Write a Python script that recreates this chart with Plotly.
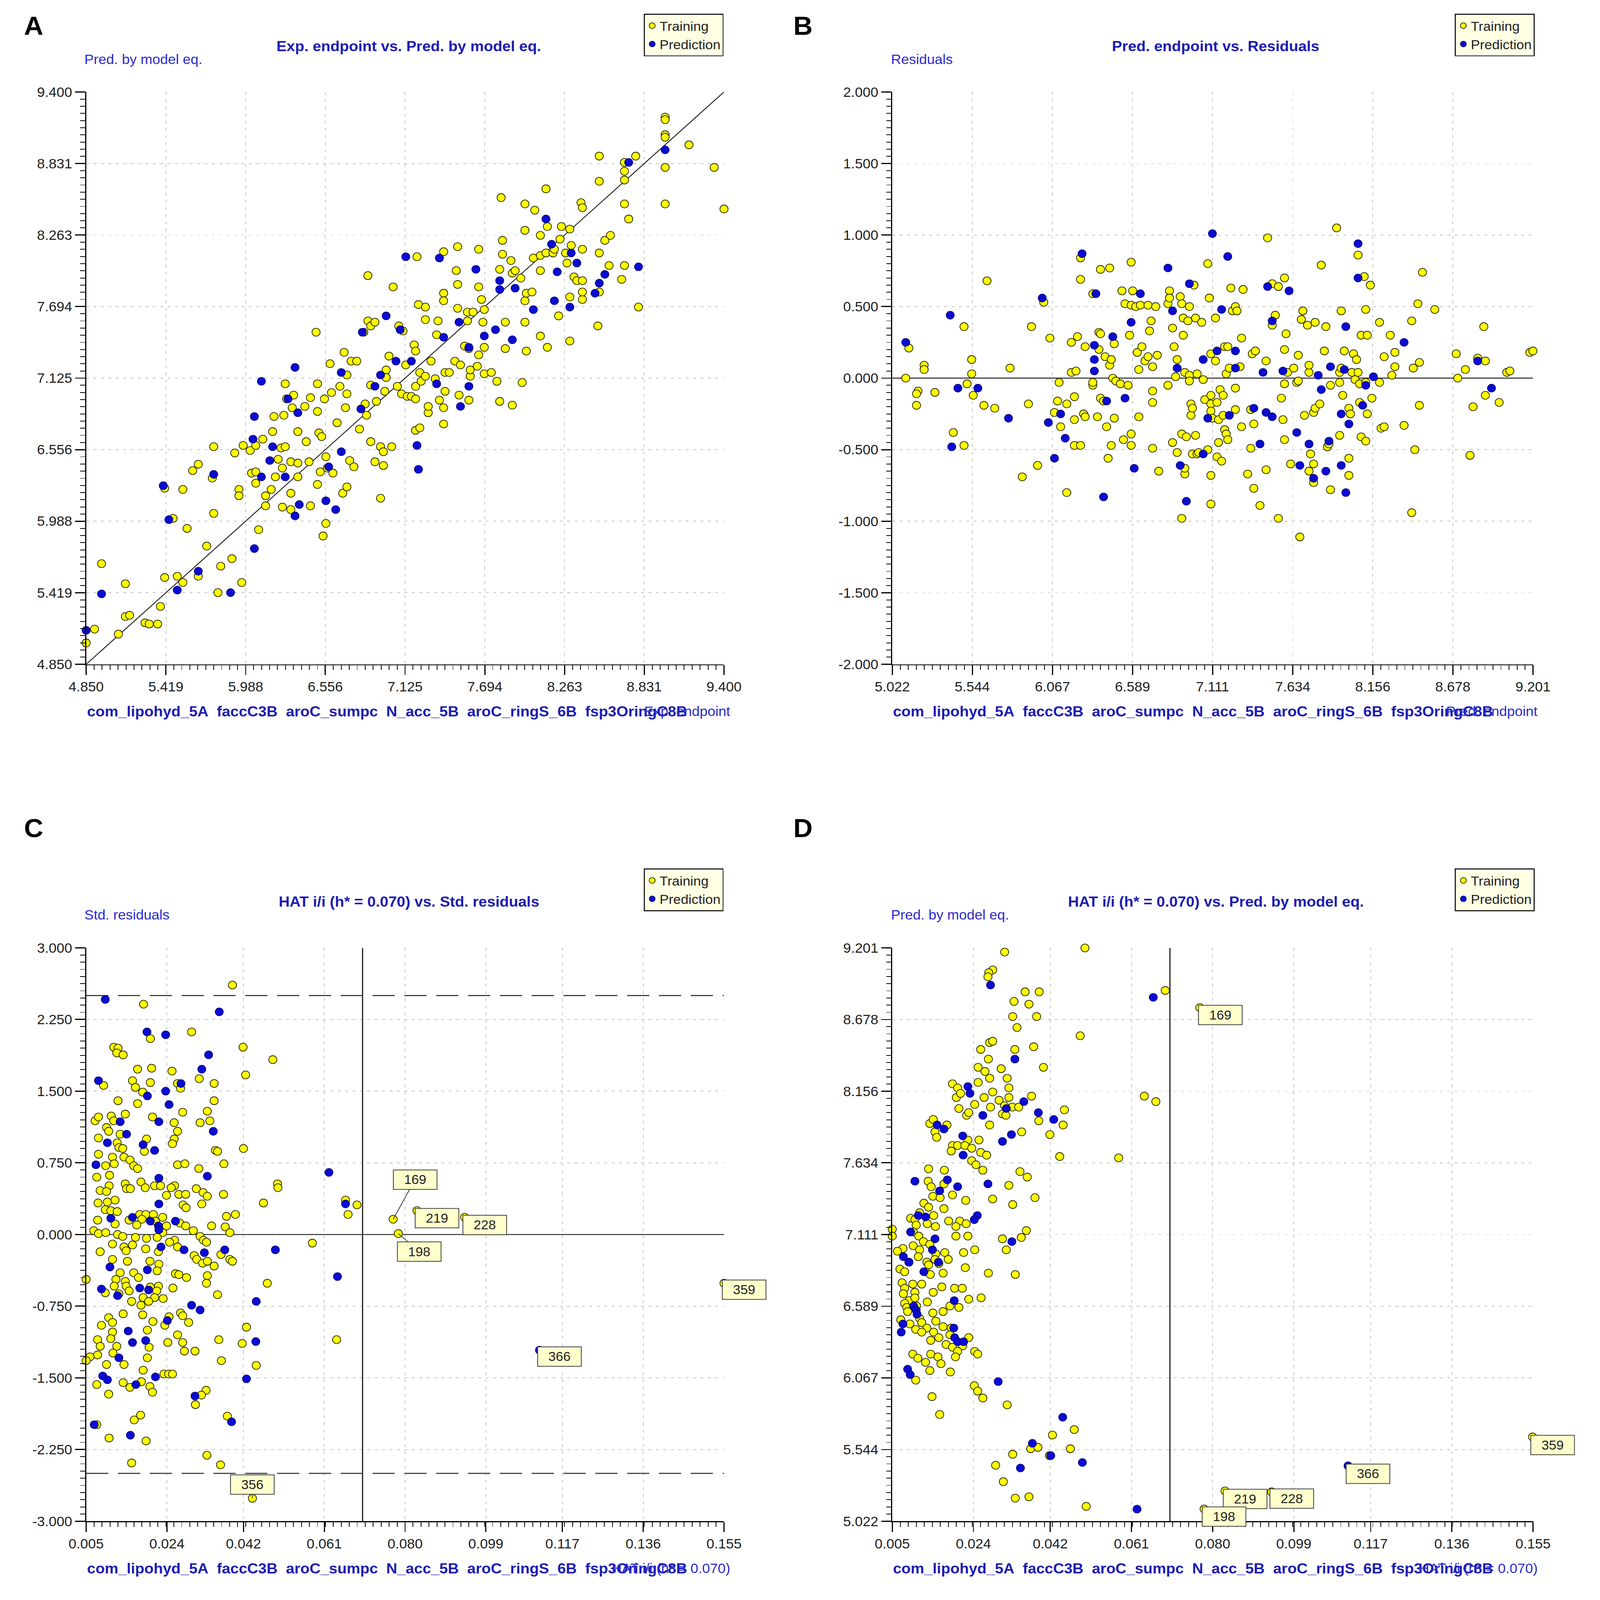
import plotly.graph_objects as go

W, H = 4324, 4450

# ---------------- data ----------------
a_ticks = ["4.850", "5.419", "5.988", "6.556", "7.125", "7.694", "8.263", "8.831", "9.400"]
b_x_ticks = ["5.022", "5.544", "6.067", "6.589", "7.111", "7.634", "8.156", "8.678", "9.201"]
b_y_ticks = ["-2.000", "-1.500", "-1.000", "-0.500", "0.000", "0.500", "1.000", "1.500", "2.000"]
h_ticks = ["0.005", "0.024", "0.042", "0.061", "0.080", "0.099", "0.117", "0.136", "0.155"]
c_y_ticks = ["-3.000", "-2.250", "-1.500", "-0.750", "0.000", "0.750", "1.500", "2.250", "3.000"]
d_y_ticks = b_x_ticks

h_star = 0.070
std_limit = 2.5

# Panel A: (experimental endpoint, predicted by model eq.)
a_train = [(4.85,5.02),(4.91,5.13),(4.96,5.65),(5.08,5.09),(5.13,5.49),(5.13,5.23),(5.16,5.24),(5.27,5.18),(5.30,5.17),(5.36,5.17),(5.38,5.31),(5.41,5.54),(5.41,6.25),(5.47,6.01),(5.50,5.55),(5.54,5.50),(5.54,6.24),(5.57,5.93),(5.61,6.39),(5.65,6.44),(5.65,5.55),(5.71,5.79),(5.76,6.58),(5.75,6.33),(5.76,6.05),(5.79,5.42),(5.81,5.63),(5.89,5.69),(5.91,6.53),(5.94,6.24),(5.94,6.19),(5.96,5.50),(5.97,6.59),(6.02,6.55),(6.03,6.37),(6.06,6.59),(6.06,6.38),(6.06,6.29),(6.08,5.92),(6.11,6.64),(6.13,6.19),(6.13,6.11),(6.17,6.24),(6.18,6.70),(6.19,6.82),(6.20,6.34),(6.22,6.48),(6.24,6.57),(6.25,6.41),(6.25,6.10),(6.26,6.83),(6.27,7.08),(6.27,6.58),(6.28,6.96),(6.31,6.46),(6.31,6.21),(6.31,6.08),(6.32,6.89),(6.33,6.99),(6.36,6.70),(6.36,6.45),(6.36,6.34),(6.41,6.90),(6.42,6.62),(6.44,6.46),(6.45,6.11),(6.49,7.49),(6.45,6.97),(6.50,7.08),(6.50,6.86),(6.50,6.28),(6.51,6.69),(6.52,6.38),(6.53,6.66),(6.54,5.87),(6.56,6.50),(6.56,5.97),(6.55,6.96),(6.57,6.41),(6.59,7.24),(6.60,7.01),(6.61,6.37),(6.64,6.77),(6.66,7.06),(6.68,6.21),(6.69,7.33),(6.70,6.89),(6.71,7.00),(6.71,6.26),(6.71,7.15),(6.73,6.47),(6.74,7.26),(6.76,6.42),(6.78,7.26),(6.80,6.72),(6.83,7.49),(6.84,6.92),(6.85,6.83),(6.86,7.94),(6.86,7.58),(6.88,7.54),(6.88,6.62),(6.88,7.07),(6.91,7.57),(6.91,6.46),(6.92,6.94),(6.95,6.17),(6.95,6.58),(6.97,6.54),(6.97,6.43),(6.98,7.02),(6.99,7.19),(6.99,7.13),(7.01,7.30),(7.03,6.58),(7.04,7.85),(7.07,7.06),(7.08,7.54),(7.11,7.50),(7.10,7.00),(7.13,7.23),(7.14,6.98),(7.17,6.98),(7.19,7.39),(7.20,7.34),(7.20,7.06),(7.20,6.96),(7.20,6.71),(7.21,8.09),(7.22,7.71),(7.23,7.17),(7.23,6.73),(7.24,7.10),(7.27,7.69),(7.27,7.59),(7.27,7.14),(7.29,6.85),(7.29,6.90),(7.31,7.26),(7.34,7.12),(7.35,7.47),(7.36,7.58),(7.37,6.95),(7.40,8.13),(7.40,7.80),(7.40,7.74),(7.40,6.89),(7.40,6.76),(7.41,7.17),(7.41,7.02),(7.44,7.17),(7.48,7.26),(7.49,7.98),(7.50,8.17),(7.50,7.87),(7.50,7.68),(7.51,6.99),(7.52,7.23),(7.55,7.38),(7.57,7.65),(7.57,7.58),(7.58,7.36),(7.58,6.95),(7.59,7.14),(7.59,7.19),(7.61,7.65),(7.64,7.22),(7.65,7.85),(7.65,8.15),(7.65,7.31),(7.67,7.75),(7.68,7.57),(7.69,7.37),(7.69,7.16),(7.69,7.67),(7.74,7.17),(7.78,7.10),(7.80,7.99),(7.81,8.56),(7.82,8.22),(7.82,8.11),(7.80,6.94),(7.84,7.57),(7.84,7.36),(7.88,8.06),(7.89,7.96),(7.89,6.91),(7.91,7.98),(7.95,7.92),(7.96,7.09),(7.98,8.51),(7.98,8.30),(7.98,7.74),(7.98,7.57),(7.99,7.34),(7.99,7.80),(8.03,7.81),(8.05,8.46),(8.04,8.08),(8.09,8.26),(8.09,8.10),(8.09,7.98),(8.09,7.46),(8.13,8.63),(8.14,8.33),(8.13,8.12),(8.14,7.37),(8.18,8.12),(8.19,8.15),(8.22,7.62),(8.23,8.23),(8.24,8.33),(8.27,8.12),(8.28,8.04),(8.30,8.31),(8.30,7.77),(8.30,7.42),(8.31,8.18),(8.33,7.93),(8.35,7.90),(8.38,8.52),(8.39,8.48),(8.39,8.15),(8.39,7.90),(8.39,7.75),(8.39,7.81),(8.50,7.54),(8.51,8.12),(8.51,7.81),(8.51,8.69),(8.51,8.89),(8.55,8.22),(8.59,8.26),(8.58,8.02),(8.67,7.91),(8.69,8.02),(8.69,8.84),(8.69,8.77),(8.69,8.70),(8.69,8.51),(8.72,8.39),(8.77,8.89),(8.79,7.69),(8.98,9.20),(8.98,9.18),(8.98,9.06),(8.98,9.04),(8.98,8.80),(8.98,8.51),(9.15,8.98),(9.33,8.80),(9.40,8.47)]
a_pred = [(4.85,5.12),(4.96,5.41),(5.40,6.27),(5.44,6.00),(5.50,5.44),(5.65,5.59),(5.76,6.36),(5.88,5.42),(6.04,6.64),(6.05,6.82),(6.05,5.77),(6.10,7.10),(6.10,6.34),(6.16,6.47),(6.18,6.58),(6.27,6.34),(6.29,6.96),(6.34,7.21),(6.34,6.03),(6.36,6.85),(6.37,6.12),(6.56,6.15),(6.58,6.42),(6.63,6.08),(6.67,6.54),(6.67,7.17),(6.81,6.88),(6.82,7.49),(6.91,7.06),(6.95,7.15),(6.99,7.62),(7.06,7.26),(7.09,7.51),(7.13,8.09),(7.17,7.26),(7.21,6.59),(7.22,6.40),(7.35,7.08),(7.37,8.08),(7.40,7.45),(7.51,7.57),(7.52,6.90),(7.58,7.06),(7.58,7.37),(7.63,7.99),(7.69,7.46),(7.77,7.51),(7.80,7.83),(7.80,7.90),(7.89,7.43),(7.91,7.84),(8.04,7.67),(8.13,8.39),(8.17,8.19),(8.21,7.97),(8.19,7.74),(8.30,7.69),(8.31,8.12),(8.35,8.04),(8.48,7.80),(8.51,7.88),(8.55,7.95),(8.72,8.84),(8.79,8.01),(8.98,8.94)]

# Panel B: (predicted endpoint, residual)
b_train = [(5.02,0.17),(5.11,0.00),(5.13,0.21),(5.19,-0.09),(5.18,-0.11),(5.18,-0.19),(5.23,0.09),(5.23,0.06),(5.30,-0.10),(5.42,-0.38),(5.49,0.36),(5.49,-0.47),(5.51,-0.04),(5.54,0.13),(5.54,0.03),(5.55,-0.12),(5.62,-0.19),(5.64,0.68),(5.69,-0.21),(5.79,0.07),(5.87,-0.69),(5.91,-0.18),(5.93,0.36),(5.97,-0.61),(6.01,0.53),(6.05,0.28),(6.08,-0.24),(6.10,-0.16),(6.11,-0.03),(6.12,-0.34),(6.16,-0.18),(6.16,-0.80),(6.19,0.25),(6.19,0.04),(6.21,-0.13),(6.21,-0.29),(6.21,-0.47),(6.22,0.05),(6.23,0.29),(6.25,0.84),(6.25,0.69),(6.25,-0.47),(6.27,-0.25),(6.28,-0.27),(6.28,0.22),(6.33,-0.05),(6.33,-0.03),(6.33,0.59),(6.36,-0.27),(6.37,0.32),(6.37,0.20),(6.38,-0.14),(6.38,0.76),(6.38,0.31),(6.40,-0.16),(6.41,0.15),(6.42,-0.34),(6.43,-0.56),(6.44,0.77),(6.44,0.09),(6.45,-0.47),(6.45,0.13),(6.46,0.00),(6.47,-0.28),(6.47,0.24),(6.48,-0.02),(6.51,-0.04),(6.52,0.61),(6.53,-0.43),(6.54,0.52),(6.56,-0.05),(6.57,0.30),(6.58,-0.39),(6.58,0.81),(6.58,0.51),(6.58,-0.47),(6.59,0.61),(6.61,0.50),(6.62,0.18),(6.63,0.06),(6.63,-0.27),(6.64,0.51),(6.65,0.22),(6.67,0.12),(6.69,0.15),(6.69,0.51),(6.70,0.33),(6.71,0.40),(6.72,-0.49),(6.72,0.08),(6.72,-0.17),(6.72,-0.09),(6.74,0.50),(6.75,0.16),(6.76,-0.65),(6.82,-0.05),(6.82,0.52),(6.83,0.61),(6.83,0.56),(6.85,-0.45),(6.85,0.35),(6.86,0.22),(6.87,0.01),(6.88,-0.52),(6.88,0.13),(6.90,0.57),(6.91,0.52),(6.91,-0.98),(6.91,-0.39),(6.92,0.30),(6.92,0.42),(6.93,0.04),(6.93,-0.67),(6.93,-0.63),(6.94,-0.41),(6.95,0.40),(6.96,0.02),(6.96,0.50),(6.96,-0.02),(6.97,-0.18),(6.97,-0.26),(6.98,-0.21),(6.98,-0.53),(6.99,0.65),(7.00,0.42),(7.00,-0.40),(7.01,0.03),(7.01,-0.53),(7.02,-0.52),(7.04,0.39),(7.05,-0.01),(7.06,-0.15),(7.08,0.80),(7.08,-0.50),(7.09,0.56),(7.10,-0.68),(7.10,-0.88),(7.10,0.17),(7.10,-0.12),(7.10,-0.18),(7.10,-0.23),(7.11,-0.28),(7.13,0.12),(7.13,0.42),(7.14,-0.17),(7.14,-0.55),(7.15,-0.45),(7.15,-0.29),(7.16,-0.08),(7.17,-0.58),(7.18,-0.26),(7.18,-0.12),(7.19,0.22),(7.19,-0.36),(7.20,0.03),(7.20,-0.39),(7.21,0.22),(7.21,-0.43),(7.22,0.07),(7.23,0.63),(7.24,0.47),(7.26,0.50),(7.26,-0.07),(7.26,-0.22),(7.27,0.47),(7.29,0.08),(7.30,0.28),(7.30,-0.34),(7.31,0.62),(7.34,-0.67),(7.36,-0.49),(7.36,-0.22),(7.37,0.17),(7.38,-0.77),(7.38,-0.32),(7.39,0.19),(7.42,-0.89),(7.46,0.12),(7.46,-0.64),(7.47,0.98),(7.50,0.37),(7.50,0.66),(7.52,0.44),(7.54,-0.98),(7.54,0.64),(7.56,-0.14),(7.57,-0.29),(7.58,0.70),(7.58,0.20),(7.58,-0.43),(7.58,-0.04),(7.59,0.31),(7.60,0.04),(7.62,-0.60),(7.64,0.07),(7.66,-0.03),(7.67,0.16),(7.67,-0.02),(7.68,-1.11),(7.69,0.41),(7.70,0.47),(7.71,-0.26),(7.74,0.04),(7.73,0.37),(7.74,0.09),(7.74,-0.65),(7.75,-0.53),(7.77,-0.24),(7.77,-0.73),(7.77,-0.60),(7.78,0.39),(7.78,-0.21),(7.81,-0.18),(7.82,0.79),(7.84,0.19),(7.85,0.36),(7.86,-0.48),(7.87,-0.46),(7.88,-0.05),(7.88,-0.78),(7.92,1.05),(7.94,0.04),(7.94,-0.03),(7.94,-0.40),(7.95,0.07),(7.95,0.47),(7.96,-0.12),(7.97,0.19),(8.00,-0.56),(8.00,-0.21),(8.00,-0.68),(8.01,-0.25),(8.02,0.04),(8.03,0.17),(8.04,-0.01),(8.05,0.13),(8.06,0.86),(8.06,0.04),(8.07,-0.04),(8.07,-0.17),(8.08,0.30),(8.08,-0.41),(8.10,0.71),(8.11,-0.44),(8.11,-0.03),(8.11,0.48),(8.12,0.30),(8.12,-0.25),(8.14,0.65),(8.15,-0.14),(8.20,0.39),(8.20,-0.03),(8.21,-0.35),(8.23,-0.34),(8.23,0.15),(8.27,0.30),(8.28,0.02),(8.30,0.08),(8.30,0.18),(8.36,-0.33),(8.41,0.40),(8.41,-0.94),(8.42,0.07),(8.43,-0.50),(8.45,0.52),(8.46,0.11),(8.46,-0.19),(8.48,0.74),(8.56,0.48),(8.70,0.17),(8.71,0.00),(8.76,0.06),(8.79,-0.54),(8.81,-0.20),(8.84,0.14),(8.88,0.36),(8.89,-0.12),(8.89,0.12),(8.98,-0.17),(9.03,0.04),(9.05,0.05),(9.18,0.18),(9.20,0.19)]
b_pred = [(5.11,0.25),(5.40,0.44),(5.41,-0.48),(5.45,-0.07),(5.58,-0.07),(5.78,-0.28),(6.00,0.56),(6.04,-0.31),(6.08,-0.56),(6.12,-0.25),(6.15,-0.42),(6.26,0.87),(6.35,0.59),(6.34,0.13),(6.34,0.05),(6.34,0.23),(6.40,-0.83),(6.42,-0.16),(6.46,0.29),(6.54,-0.14),(6.58,0.39),(6.60,-0.63),(6.64,0.59),(6.82,0.77),(6.85,0.47),(6.88,0.07),(6.90,-0.61),(6.94,-0.86),(6.96,0.66),(7.05,0.13),(7.05,-0.53),(7.08,-0.28),(7.11,1.01),(7.14,0.19),(7.17,0.48),(7.21,0.85),(7.22,-0.26),(7.26,0.19),(7.26,0.07),(7.38,-0.21),(7.42,-0.46),(7.44,0.04),(7.46,-0.24),(7.47,0.64),(7.50,0.40),(7.50,-0.27),(7.57,0.05),(7.61,0.61),(7.66,-0.38),(7.68,-0.61),(7.74,-0.46),(7.77,-0.70),(7.80,0.02),(7.82,-0.08),(7.85,-0.65),(7.87,-0.44),(7.88,0.08),(7.95,-0.61),(7.95,-0.25),(7.97,0.06),(7.98,0.36),(7.98,-0.80),(8.00,-0.32),(8.06,0.94),(8.06,0.70),(8.09,-0.19),(8.11,-0.05),(8.16,0.01),(8.36,0.25),(8.84,0.12),(8.93,-0.07)]

# Panel C: (HAT i/i, std. residual)
c_train = [(0.0394,2.61),(0.0185,2.41),(0.0201,2.05),(0.0298,2.12),(0.0115,1.96),(0.0125,1.95),(0.0122,1.90),(0.0137,1.88),(0.0419,1.96),(0.0489,1.83),(0.0171,1.73),(0.0204,1.74),(0.0252,1.71),(0.0425,1.67),(0.0091,1.56),(0.0159,1.61),(0.0201,1.59),(0.0166,1.54),(0.0265,1.58),(0.0272,1.53),(0.0316,1.63),(0.0351,1.58),(0.0183,1.49),(0.0125,1.40),(0.0351,1.40),(0.0171,1.37),(0.0071,1.19),(0.0079,1.23),(0.0109,1.24),(0.0115,1.19),(0.0142,1.26),(0.0206,1.23),(0.0277,1.28),(0.0335,1.29),(0.0341,1.19),(0.0318,1.17),(0.0257,1.17),(0.0098,1.12),(0.0103,1.08),(0.0130,1.05),(0.0265,1.08),(0.0079,1.01),(0.0123,0.96),(0.0192,1.00),(0.0257,1.00),(0.0253,0.95),(0.0127,0.91),(0.0136,0.90),(0.0187,0.87),(0.0354,0.88),(0.0359,0.87),(0.0420,0.90),(0.0079,0.84),(0.0112,0.81),(0.0139,0.81),(0.0153,0.78),(0.0096,0.72),(0.0116,0.74),(0.0162,0.72),(0.0265,0.73),(0.0282,0.74),(0.0374,0.74),(0.0315,0.69),(0.0171,0.69),(0.0075,0.60),(0.0105,0.62),(0.0179,0.55),(0.0142,0.53),(0.0104,0.51),(0.0211,0.51),(0.0189,0.49),(0.0225,0.51),(0.0258,0.51),(0.0309,0.48),(0.0325,0.44),(0.0500,0.53),(0.0501,0.49),(0.0083,0.46),(0.0098,0.45),(0.0145,0.48),(0.0154,0.48),(0.0250,0.49),(0.0268,0.42),(0.0239,0.41),(0.0284,0.42),(0.0335,0.40),(0.0373,0.42),(0.0078,0.33),(0.0100,0.34),(0.0278,0.31),(0.0285,0.28),(0.0322,0.32),(0.0467,0.33),(0.0660,0.36),(0.0687,0.31),(0.0666,0.21),(0.0118,0.36),(0.0095,0.26),(0.0108,0.25),(0.0123,0.24),(0.0176,0.21),(0.0190,0.21),(0.0208,0.21),(0.0230,0.18),(0.0380,0.19),(0.0401,0.21),(0.0077,0.15),(0.0151,0.15),(0.0181,0.16),(0.0213,0.14),(0.0270,0.12),(0.0345,0.09),(0.0118,0.11),(0.0169,0.10),(0.0239,0.09),(0.0284,0.09),(0.0377,0.08),(0.0068,0.04),(0.0079,0.01),(0.0096,0.02),(0.0230,0.02),(0.0302,0.04),(0.0388,0.02),(0.0124,0.00),(0.0136,-0.02),(0.0166,-0.03),(0.0192,-0.04),(0.0217,-0.03),(0.0258,-0.06),(0.0246,-0.08),(0.0318,-0.02),(0.0326,-0.06),(0.0333,-0.08),(0.0582,-0.09),(0.0112,-0.10),(0.0139,-0.13),(0.0159,-0.11),(0.0190,-0.15),(0.0265,-0.13),(0.0083,-0.18),(0.0144,-0.17),(0.0220,-0.18),(0.0367,-0.21),(0.0304,-0.22),(0.0310,-0.26),(0.0112,-0.26),(0.0147,-0.28),(0.0200,-0.28),(0.0388,-0.26),(0.0394,-0.28),(0.0324,-0.30),(0.0335,-0.28),(0.0351,-0.33),(0.0221,-0.31),(0.0130,-0.40),(0.0162,-0.40),(0.0260,-0.41),(0.0268,-0.42),(0.0286,-0.45),(0.0335,-0.43),(0.0217,-0.38),(0.0050,-0.47),(0.0120,-0.47),(0.0142,-0.49),(0.0173,-0.45),(0.0476,-0.51),(0.0333,-0.51),(0.0116,-0.54),(0.0144,-0.54),(0.0201,-0.55),(0.0220,-0.54),(0.0095,-0.61),(0.0127,-0.62),(0.0151,-0.59),(0.0254,-0.56),(0.0216,-0.59),(0.0359,-0.63),(0.0184,-0.66),(0.0211,-0.66),(0.0231,-0.67),(0.0157,-0.70),(0.0197,-0.70),(0.0179,-0.74),(0.0272,-0.82),(0.0277,-0.85),(0.0103,-0.87),(0.0137,-0.83),(0.0183,-0.84),(0.0245,-0.86),(0.0291,-0.92),(0.0086,-0.95),(0.0112,-0.92),(0.0207,-0.91),(0.0235,-0.95),(0.0427,-0.97),(0.0112,-1.02),(0.0194,-1.00),(0.0265,-1.05),(0.0108,-1.09),(0.0077,-1.10),(0.0639,-1.10),(0.0362,-1.10),(0.0417,-1.14),(0.0242,-1.13),(0.0277,-1.13),(0.0083,-1.17),(0.0122,-1.17),(0.0198,-1.18),(0.0281,-1.22),(0.0306,-1.22),(0.0113,-1.24),(0.0077,-1.26),(0.0059,-1.28),(0.0194,-1.29),(0.0050,-1.32),(0.0368,-1.32),(0.0098,-1.36),(0.0139,-1.36),(0.0450,-1.37),(0.0184,-1.42),(0.0233,-1.46),(0.0244,-1.46),(0.0253,-1.46),(0.0075,-1.57),(0.0137,-1.55),(0.0153,-1.60),(0.0180,-1.54),(0.0200,-1.59),(0.0206,-1.65),(0.0103,-1.67),(0.0332,-1.63),(0.0321,-1.68),(0.0307,-1.78),(0.0178,-1.89),(0.0163,-1.94),(0.0382,-1.90),(0.0075,-1.99),(0.0104,-2.13),(0.0191,-2.16),(0.0334,-2.31),(0.0157,-2.39),(0.0366,-2.41),(0.0772,0.16),(0.0828,0.25),(0.0940,0.18),(0.0784,0.01),(0.1550,-0.51),(0.0441,-2.76)]
c_pred = [(0.0095,2.46),(0.0363,2.33),(0.0193,2.12),(0.0237,2.09),(0.0338,1.88),(0.0322,1.73),(0.0079,1.61),(0.0273,1.58),(0.0194,1.45),(0.0237,1.50),(0.0245,1.36),(0.0221,1.18),(0.0130,1.18),(0.0349,1.08),(0.0145,1.05),(0.0100,0.96),(0.0184,0.94),(0.0211,0.88),(0.0073,0.73),(0.0621,0.65),(0.0221,0.59),(0.0335,0.61),(0.0221,0.32),(0.0660,0.32),(0.0108,0.17),(0.0159,0.18),(0.0201,0.14),(0.0260,0.14),(0.0220,0.09),(0.0221,0.05),(0.0495,-0.16),(0.0226,-0.13),(0.0280,-0.16),(0.0328,-0.19),(0.0376,-0.16),(0.0106,-0.34),(0.0194,-0.37),(0.0641,-0.44),(0.0086,-0.57),(0.0176,-0.56),(0.0197,-0.58),(0.0124,-0.64),(0.0450,-0.70),(0.0298,-0.74),(0.0318,-0.79),(0.0241,-0.90),(0.0149,-1.01),(0.0190,-1.11),(0.0449,-1.12),(0.0159,-1.13),(0.0127,-1.29),(0.0089,-1.48),(0.0100,-1.52),(0.0213,-1.49),(0.0427,-1.51),(0.0167,-1.57),(0.0306,-1.69),(0.0392,-1.96),(0.0069,-1.99),(0.0154,-2.10),(0.1116,-1.21)]

# Panel D: (HAT i/i, predicted by model eq.)
d_train = [(0.0501,9.20),(0.0313,9.17),(0.0285,9.04),(0.0276,9.02),(0.0274,8.99),(0.0689,8.89),(0.0361,8.88),(0.0394,8.88),(0.0335,8.81),(0.0370,8.79),(0.0332,8.70),(0.0388,8.70),(0.0342,8.62),(0.0490,8.56),(0.0278,8.51),(0.0285,8.52),(0.0381,8.48),(0.0257,8.46),(0.0337,8.46),(0.0275,8.39),(0.0251,8.33),(0.0404,8.33),(0.0267,8.30),(0.0305,8.32),(0.0278,8.25),(0.0319,8.25),(0.0251,8.22),(0.0191,8.21),(0.0203,8.18),(0.0323,8.18),(0.0200,8.11),(0.0210,8.14),(0.0265,8.11),(0.0285,8.15),(0.0300,8.09),(0.0323,8.11),(0.0376,8.12),(0.0640,8.12),(0.0667,8.08),(0.0243,8.06),(0.0280,8.04),(0.0313,8.05),(0.0331,8.04),(0.0206,8.03),(0.0346,8.04),(0.0453,8.02),(0.0308,7.99),(0.0224,7.98),(0.0316,7.98),(0.0229,8.00),(0.0393,7.94),(0.0138,7.92),(0.0146,7.95),(0.0178,7.91),(0.0278,7.91),(0.0450,7.91),(0.0150,7.86),(0.0154,7.82),(0.0353,7.86),(0.0419,7.84),(0.0227,7.80),(0.0253,7.80),(0.0191,7.76),(0.0203,7.76),(0.0220,7.76),(0.0188,7.72),(0.0236,7.74),(0.0257,7.71),(0.0271,7.69),(0.0442,7.68),(0.0580,7.67),(0.0236,7.65),(0.0246,7.62),(0.0135,7.59),(0.0172,7.58),(0.0262,7.58),(0.0349,7.57),(0.0366,7.53),(0.0134,7.50),(0.0141,7.46),(0.0171,7.48),(0.0323,7.47),(0.0145,7.39),(0.0124,7.34),(0.0162,7.38),(0.0191,7.40),(0.0222,7.36),(0.0285,7.37),(0.0384,7.38),(0.0135,7.31),(0.0171,7.30),(0.0332,7.33),(0.0114,7.27),(0.0093,7.23),(0.0103,7.22),(0.0147,7.25),(0.0182,7.21),(0.0208,7.21),(0.0223,7.19),(0.0199,7.17),(0.0106,7.18),(0.0132,7.19),(0.0050,7.15),(0.0099,7.13),(0.0364,7.14),(0.0151,7.17),(0.0050,7.10),(0.0112,7.10),(0.0227,7.10),(0.0199,7.10),(0.0352,7.09),(0.0308,7.08),(0.0123,7.06),(0.0138,7.04),(0.0099,7.03),(0.0243,7.00),(0.0075,7.01),(0.0062,6.99),(0.0114,7.00),(0.0317,7.00),(0.0173,6.98),(0.0217,6.98),(0.0152,6.97),(0.0111,6.95),(0.0089,6.91),(0.0131,6.91),(0.0150,6.93),(0.0181,6.93),(0.0135,6.89),(0.0159,6.90),(0.0221,6.87),(0.0068,6.86),(0.0128,6.84),(0.0275,6.83),(0.0079,6.84),(0.0139,6.82),(0.0169,6.83),(0.0338,6.82),(0.0073,6.76),(0.0098,6.75),(0.0079,6.72),(0.0119,6.75),(0.0166,6.73),(0.0196,6.72),(0.0214,6.72),(0.0076,6.68),(0.0103,6.69),(0.0146,6.69),(0.0089,6.63),(0.0103,6.65),(0.0229,6.64),(0.0258,6.65),(0.0079,6.61),(0.0132,6.62),(0.0107,6.59),(0.0185,6.59),(0.0206,6.58),(0.0084,6.58),(0.0086,6.55),(0.0145,6.54),(0.0169,6.55),(0.0114,6.50),(0.0070,6.49),(0.0091,6.46),(0.0119,6.47),(0.0152,6.48),(0.0169,6.44),(0.0131,6.43),(0.0188,6.43),(0.0105,6.42),(0.0147,6.40),(0.0119,6.40),(0.0185,6.38),(0.0159,6.36),(0.0229,6.36),(0.0140,6.34),(0.0176,6.31),(0.0191,6.29),(0.0215,6.30),(0.0243,6.26),(0.0250,6.24),(0.0098,6.24),(0.0140,6.24),(0.0203,6.26),(0.0110,6.21),(0.0157,6.22),(0.0198,6.22),(0.0128,6.18),(0.0164,6.17),(0.0186,6.11),(0.0105,6.05),(0.0138,6.12),(0.0242,6.01),(0.0250,5.97),(0.0262,5.92),(0.0143,5.93),(0.0161,5.80),(0.0319,5.87),(0.0476,5.69),(0.0425,5.65),(0.0374,5.55),(0.0391,5.56),(0.0467,5.55),(0.0332,5.51),(0.0418,5.50),(0.0292,5.43),(0.0310,5.31),(0.0338,5.19),(0.0370,5.20),(0.0504,5.13),(0.0376,5.02),(0.0770,8.765),(0.0829,5.243),(0.0938,5.236),(0.0780,5.111),(0.1549,5.636)]
d_pred = [(0.0280,8.93),(0.0661,8.84),(0.0337,8.39),(0.0227,8.19),(0.0232,8.14),(0.0358,8.08),(0.0317,8.03),(0.0262,7.98),(0.0392,8.00),(0.0428,7.95),(0.0155,7.91),(0.0171,7.88),(0.0215,7.83),(0.0329,7.84),(0.0308,7.79),(0.0216,7.69),(0.0103,7.50),(0.0179,7.51),(0.0203,7.46),(0.0274,7.48),(0.0161,7.43),(0.0111,7.25),(0.0128,7.24),(0.0249,7.25),(0.0242,7.22),(0.0093,7.13),(0.0150,7.08),(0.0330,7.06),(0.0144,7.00),(0.0076,6.95),(0.0089,6.91),(0.0158,6.91),(0.0124,6.84),(0.0195,6.63),(0.0100,6.59),(0.0106,6.56),(0.0108,6.53),(0.0075,6.46),(0.0194,6.43),(0.0071,6.40),(0.0196,6.36),(0.0203,6.33),(0.0217,6.33),(0.0086,6.13),(0.0092,6.09),(0.0298,6.04),(0.0449,5.78),(0.0378,5.59),(0.0421,5.50),(0.0495,5.45),(0.0350,5.41),(0.0623,5.11),(0.1117,5.426)]

# labelled compounds: (id, x, y, dx_px, dy_px)
c_labels = [("169", 0.0772, 0.16, 59, -110), ("219", 0.0828, 0.25, 54, 21), ("228", 0.0940, 0.18, 54, 21),
            ("198", 0.0784, 0.01, 57, 50), ("359", 0.1550, -0.51, 54, 18), ("366", 0.1116, -1.21, 54, 18),
            ("356", 0.0441, -2.76, 0, -38)]
d_labels = [("169", 0.0770, 8.765, 55, 21), ("219", 0.0829, 5.243, 54, 22), ("228", 0.0938, 5.236, 55, 19),
            ("198", 0.0780, 5.111, 54, 21), ("366", 0.1117, 5.426, 54, 22), ("359", 0.1549, 5.636, 54, 22)]

descriptors = "com_lipohyd_5A\u00a0\u00a0faccC3B\u00a0\u00a0aroC_sumpc\u00a0\u00a0N_acc_5B\u00a0\u00a0aroC_ringS_6B\u00a0\u00a0fsp3OringC8B"

# ---------------- layout helpers ----------------
FONT = "Liberation Sans, Arial, sans-serif"
BLUE_T = "#1c1cb4"
BLUE_L = "#2a2ad0"


def px_x(p):
    return p / W


def px_y(p):
    return 1 - p / H


def axis(ticks, domain, anchor):
    vals = [float(t) for t in ticks]
    rng = [vals[0], vals[-1]]
    step = (rng[1] - rng[0]) / (len(vals) - 1)
    return dict(
        domain=domain, anchor=anchor, range=rng, autorange=False,
        tickmode="array", tickvals=vals, ticktext=ticks,
        showgrid=True, gridcolor="#c2c2c2", gridwidth=2, griddash="8px,12px",
        showline=True, linecolor="#000000", linewidth=3,
        ticks="outside", ticklen=27, tickwidth=3, tickcolor="#000000",
        tickfont=dict(family=FONT, size=38, color="#1e1e1e"),
        zeroline=False, fixedrange=True,
        minor=dict(tickmode="linear", tick0=rng[0], dtick=step / 10, ticks="outside",
                   ticklen=13, tickwidth=2, tickcolor="#000000", showgrid=False),
    )


xdomL = [px_x(189), px_x(1952)]
xdomR = [px_x(2417), px_x(4188)]
ydomT = [px_y(1844), px_y(237)]
ydomB = [px_y(4250), px_y(2640)]

fig = go.Figure()

yellow = dict(color="#ffff00", size=22, line=dict(color="#2b2b00", width=2))
blue = dict(color="#0a0ad2", size=22, line=dict(color="#00006e", width=1.5))

panels = [
    ("x", "y", "legend", a_train, a_pred),
    ("x2", "y2", "legend2", b_train, b_pred),
    ("x3", "y3", "legend3", c_train, c_pred),
    ("x4", "y4", "legend4", d_train, d_pred),
]

line_style = dict(color="#222222", width=2.5)

# reference lines
a_lo, a_hi = float(a_ticks[0]), float(a_ticks[-1])
fig.add_trace(go.Scatter(x=[a_lo, a_hi], y=[a_lo, a_hi], mode="lines", line=line_style,
                         xaxis="x", yaxis="y", showlegend=False, hoverinfo="skip"))
fig.add_trace(go.Scatter(x=[float(b_x_ticks[0]), float(b_x_ticks[-1])], y=[0, 0], mode="lines",
                         line=line_style, xaxis="x2", yaxis="y2", showlegend=False, hoverinfo="skip"))
h_lo, h_hi = float(h_ticks[0]), float(h_ticks[-1])
fig.add_trace(go.Scatter(x=[h_lo, h_hi], y=[0, 0], mode="lines", line=line_style,
                         xaxis="x3", yaxis="y3", showlegend=False, hoverinfo="skip"))
fig.add_trace(go.Scatter(x=[h_star, h_star], y=[float(c_y_ticks[0]), float(c_y_ticks[-1])], mode="lines",
                         line=dict(color="#111111", width=3), xaxis="x3", yaxis="y3", showlegend=False, hoverinfo="skip"))
for s in (std_limit, -std_limit):
    fig.add_trace(go.Scatter(x=[h_lo, h_hi], y=[s, s], mode="lines",
                             line=dict(color="#333333", width=3, dash="60px,26px"),
                             xaxis="x3", yaxis="y3", showlegend=False, hoverinfo="skip"))
fig.add_trace(go.Scatter(x=[h_star, h_star], y=[float(d_y_ticks[0]), float(d_y_ticks[-1])], mode="lines",
                         line=dict(color="#111111", width=3), xaxis="x4", yaxis="y4", showlegend=False, hoverinfo="skip"))

for xa, ya, lg, tr, pr in panels:
    fig.add_trace(go.Scatter(x=[p[0] for p in tr], y=[p[1] for p in tr], mode="markers", name="Training",
                             marker=yellow, xaxis=xa, yaxis=ya, legend=lg, cliponaxis=False))
    fig.add_trace(go.Scatter(x=[p[0] for p in pr], y=[p[1] for p in pr], mode="markers", name="Prediction",
                             marker=blue, xaxis=xa, yaxis=ya, legend=lg, cliponaxis=False))

legend_common = dict(xref="paper", yref="paper", xanchor="left", yanchor="top",
                     bgcolor="#ffffe4", bordercolor="#222222", borderwidth=3,
                     font=dict(family=FONT, size=37, color="#222222"),
                     tracegroupgap=0)

annotations = []


def text(x, y, s, size, color, bold=False, anchor="left"):
    annotations.append(dict(x=px_x(x), y=px_y(y), xref="paper", yref="paper", showarrow=False,
                            text=("<b>%s</b>" % s) if bold else s, xanchor=anchor, yanchor="middle",
                            font=dict(family=FONT, size=size, color=color)))


text(44, 51, "A", 72, "#000000", True, "center")
text(2170, 51, "B", 72, "#000000", True, "center")
text(44, 2304, "C", 72, "#000000", True, "center")
text(2170, 2304, "D", 72, "#000000", True, "center")

text(1080, 108, "Exp. endpoint vs. Pred. by model eq.", 41, BLUE_T, True, "center")
text(3311, 108, "Pred. endpoint vs. Residuals", 41, BLUE_T, True, "center")
text(1081, 2511, "HAT i/i (h* = 0.070) vs. Std. residuals", 41, BLUE_T, True, "center")
text(3312, 2511, "HAT i/i (h* = 0.070) vs. Pred. by model eq.", 41, BLUE_T, True, "center")

text(182, 145, "Pred. by model eq.", 38, BLUE_L)
text(2412, 145, "Residuals", 38, BLUE_L)
text(182, 2548, "Std. residuals", 38, BLUE_L)
text(2412, 2548, "Pred. by model eq.", 38, BLUE_L)

text(189, 1976, descriptors, 41, BLUE_T, True)
text(2417, 1976, descriptors, 41, BLUE_T, True)
text(189, 4382, descriptors, 41, BLUE_T, True)
text(2417, 4382, descriptors, 41, BLUE_T, True)

text(1972, 1976, "Exp. endpoint", 38, BLUE_L, False, "right")
text(4203, 1976, "Pred. endpoint", 38, BLUE_L, False, "right")
text(1972, 4382, "HAT i/i (h* = 0.070)", 38, BLUE_L, False, "right")
text(4203, 4382, "HAT i/i (h* = 0.070)", 38, BLUE_L, False, "right")

for labels, xa, ya in ((c_labels, "x3", "y3"), (d_labels, "x4", "y4")):
    for lab, x, y, dx, dy in labels:
        annotations.append(dict(x=x, y=y, xref=xa, yref=ya, text=lab, showarrow=True,
                                arrowhead=0, arrowwidth=2, arrowcolor="#333333", ax=dx, ay=dy,
                                bgcolor="#ffffcc", bordercolor="#333333", borderwidth=2, borderpad=4,
                                width=108, height=44,
                                font=dict(family=FONT, size=36, color="#222222")))

fig.update_layout(
    width=W, height=H, margin=dict(l=0, r=0, t=0, b=0),
    paper_bgcolor="#ffffff", plot_bgcolor="#ffffff",
    font=dict(family=FONT, size=36, color="#222222"),
    showlegend=True,
    xaxis=axis(a_ticks, xdomL, "y"), yaxis=axis(a_ticks, ydomT, "x"),
    xaxis2=axis(b_x_ticks, xdomR, "y2"), yaxis2=axis(b_y_ticks, ydomT, "x2"),
    xaxis3=axis(h_ticks, xdomL, "y3"), yaxis3=axis(c_y_ticks, ydomB, "x3"),
    xaxis4=axis(h_ticks, xdomR, "y4"), yaxis4=axis(d_y_ticks, ydomB, "x4"),
    legend=dict(x=px_x(1730), y=px_y(17), **legend_common),
    legend2=dict(x=px_x(3972), y=px_y(17), **legend_common),
    legend3=dict(x=px_x(1730), y=px_y(2417), **legend_common),
    legend4=dict(x=px_x(3972), y=px_y(2417), **legend_common),
    annotations=annotations,
)

# If the browser viewport is not exactly W x H, scale the whole figure so it fills the viewport.
fit_js = """
(function(){
  var gd = document.getElementsByClassName('plotly-graph-div')[0];
  document.documentElement.style.overflow = 'hidden';
  document.body.style.margin = '0';
  document.body.style.overflow = 'hidden';
  var sx = window.innerWidth / %d, sy = window.innerHeight / %d;
  gd.style.transformOrigin = '0 0';
  gd.style.transform = 'scale(' + sx + ',' + sy + ')';
})();
""" % (W, H)

fig.write_html("out.html", post_script=fit_js, config={"displayModeBar": False})
